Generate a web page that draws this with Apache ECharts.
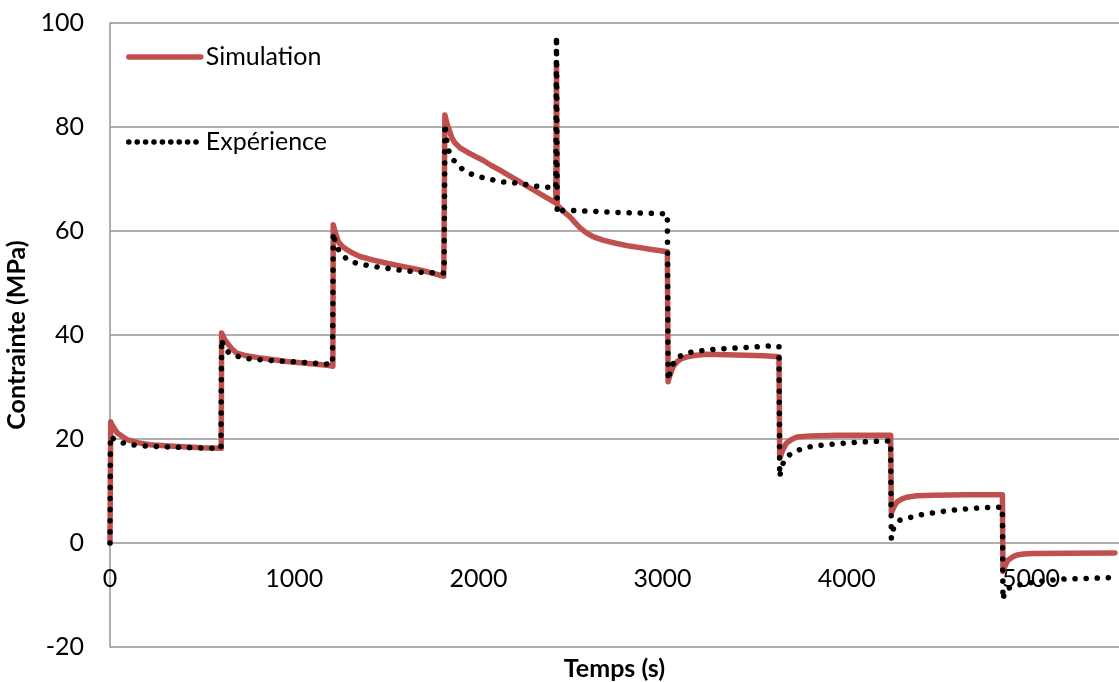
<!DOCTYPE html>
<html>
<head>
<meta charset="utf-8">
<script src="https://cdn.jsdelivr.net/npm/echarts@6/dist/echarts.min.js"></script>
<style>
  html, body { margin: 0; padding: 0; background: #fff; }
  #chart { width: 1119px; height: 682px; }
</style>
</head>
<body>
<div id="chart"></div>
<script>
// time (s) and stress (MPa)
var simTime = [0, 4, 10, 38, 92, 150, 217, 300, 396, 500, 604,
  606, 620, 635, 660, 689, 740, 814, 900, 959, 1050, 1178, 1210,
  1212, 1225, 1240, 1260, 1286, 1320, 1357, 1430, 1503, 1600, 1683, 1750, 1812,
  1818, 1830, 1842, 1855, 1873, 1900, 1938, 1980, 2025, 2070, 2117, 2160, 2209, 2260, 2318, 2370, 2420,
  2424, 2428, 2460, 2497, 2525, 2552, 2585, 2622, 2680, 2752, 2820, 2877, 2950, 3026,
  3030, 3040, 3057, 3080, 3100, 3132, 3180, 3240, 3350, 3450, 3550, 3632,
  3636, 3650, 3672, 3700, 3730, 3800, 3950, 4100, 4238,
  4242, 4260, 4273, 4300, 4327, 4381, 4468, 4650, 4845,
  4848, 4860, 4875, 4900, 4924, 4960, 5011, 5200, 5456];
var simStress = [0, 23.3, 22.8, 21.2, 19.9, 19.3, 18.9, 18.7, 18.5, 18.3, 18.2,
  40.4, 39.3, 38.5, 37.4, 36.5, 36.0, 35.6, 35.2, 34.9, 34.6, 34.2, 34.0,
  61.2, 59.5, 57.9, 57.1, 56.4, 55.7, 55.1, 54.4, 53.8, 53.1, 52.5, 51.9, 51.3,
  82.3, 80.6, 79.4, 78.0, 76.9, 76.0, 75.2, 74.4, 73.6, 72.6, 71.7, 70.8, 69.8, 68.7, 67.5, 66.4, 65.4,
  92.2, 65.0, 63.8, 62.7, 61.6, 60.6, 59.7, 58.9, 58.2, 57.6, 57.1, 56.8, 56.4, 56.0,
  31.0, 32.3, 33.9, 34.9, 35.4, 35.8, 36.1, 36.3, 36.2, 36.1, 36.0, 35.8,
  16.3, 17.7, 19.2, 19.9, 20.4, 20.6, 20.7, 20.7, 20.7,
  5.8, 7.2, 7.9, 8.5, 8.8, 9.1, 9.2, 9.3, 9.3,
  -5.5, -4.4, -3.3, -2.7, -2.3, -2.1, -2.0, -1.95, -1.9];

var expTime = [0, 2, 20, 44, 98, 163, 290, 471, 602,
  606, 620, 648, 702, 760, 879, 1059, 1178, 1208,
  1212, 1225, 1249, 1292, 1346, 1449, 1564, 1683, 1781, 1814,
  1818, 1833, 1855, 1910, 1958, 2008, 2058, 2117, 2215, 2334, 2389, 2420,
  2424, 2428, 2460, 2481, 2606, 2677, 2806, 2932, 3026,
  3030, 3050, 3077, 3127, 3190, 3295, 3400, 3500, 3590, 3632,
  3636, 3645, 3670, 3713, 3762, 3827, 3947, 4072, 4191, 4238,
  4242, 4255, 4289, 4397, 4506, 4625, 4740, 4845,
  4848, 4860, 4875, 4929, 4984, 5049, 5120, 5195, 5320, 5478];
var expStress = [0, 20.6, 20.0, 19.5, 19.0, 18.7, 18.5, 18.3, 18.2,
  39.2, 37.5, 36.5, 35.8, 35.4, 35.1, 34.7, 34.4, 34.4,
  59.7, 57.5, 55.8, 54.4, 53.7, 53.1, 52.5, 52.1, 51.9, 51.9,
  80.6, 76.0, 74.0, 72.0, 71.0, 70.4, 70.0, 69.5, 69.2, 68.5, 68.4, 68.3,
  97.5, 63.3, 64.0, 64.0, 63.8, 63.7, 63.5, 63.4, 63.3,
  31.3, 34.0, 35.6, 36.5, 36.9, 37.3, 37.5, 37.7, 37.9, 37.8,
  12.7, 14.6, 16.5, 17.5, 18.2, 18.7, 19.1, 19.4, 19.6, 19.6,
  0.8, 3.0, 4.4, 5.4, 6.0, 6.5, 6.8, 6.9,
  -10.9, -9.0, -8.7, -8.1, -7.7, -7.4, -7.1, -6.9, -6.8, -6.6];

function pairs(xs, ys) {
    return xs.map(function (x, i) { return [x, ys[i]]; });
}

var font = 'Lato, "Noto Sans", sans-serif';
var gridGray = '#969696';
var simRed = '#C0504D';

var chart = echarts.init(document.getElementById('chart'));
var option = {
    animation: false,
    textStyle: { fontFamily: font },
    grid: { left: 110, right: 0, top: 23, bottom: 35, outerBoundsMode: 'none', containLabel: false },
    legend: {
        orient: 'vertical',
        left: 121,
        top: 39,
        itemWidth: 72,
        itemHeight: 14,
        itemGap: 59,
        textStyle: { fontFamily: font, fontSize: 25, color: '#000', lineHeight: 26 },
        data: [
            { name: 'Simulation', itemStyle: { opacity: 0 },
              lineStyle: { color: simRed, width: 5.5, cap: 'round' } },
            { name: 'Expérience', itemStyle: { opacity: 0 },
              lineStyle: { color: '#000', width: 5.5, type: [0.1, 8.3], cap: 'round' } }
        ]
    },
    xAxis: {
        type: 'value',
        position: 'bottom',
        min: 0,
        max: 5478,
        interval: 1000,
        name: 'Temps (s)',
        nameLocation: 'middle',
        nameGap: 9,
        nameTextStyle: { fontFamily: font, fontSize: 25, fontWeight: 'bold', color: '#000' },
        axisLine: { show: false, onZero: false },
        axisTick: { show: false },
        axisLabel: { margin: -81, fontSize: 25, color: '#000', fontFamily: font, showMaxLabel: false,
            formatter: function (v) { return String(v); } },
        splitLine: { show: false }
    },
    yAxis: {
        type: 'value',
        min: -20,
        max: 100,
        interval: 20,
        name: 'Contrainte (MPa)',
        nameLocation: 'middle',
        nameGap: 71,
        nameTextStyle: { fontFamily: font, fontSize: 25, fontWeight: 'bold', color: '#000' },
        axisLine: { show: true, onZero: false, lineStyle: { color: gridGray, width: 1.5 } },
        axisTick: { show: false },
        axisLabel: { margin: 26, fontSize: 25, color: '#000', fontFamily: font },
        splitLine: { lineStyle: { color: gridGray, width: 1.5 } }
    },
    series: [
        {
            name: 'Simulation',
            type: 'line',
            data: pairs(simTime, simStress),
            showSymbol: false,
            symbol: 'none',
            lineStyle: { color: simRed, width: 5.5, cap: 'round', join: 'round' },
            itemStyle: { color: simRed },
            z: 2
        },
        {
            name: 'Expérience',
            type: 'line',
            data: pairs(expTime, expStress),
            showSymbol: false,
            symbol: 'none',
            lineStyle: { color: '#000', width: 5.5, type: [0.1, 11], cap: 'round', join: 'round' },
            itemStyle: { color: '#000' },
            z: 3
        }
    ]
};
chart.setOption(option);
</script>
</body>
</html>
